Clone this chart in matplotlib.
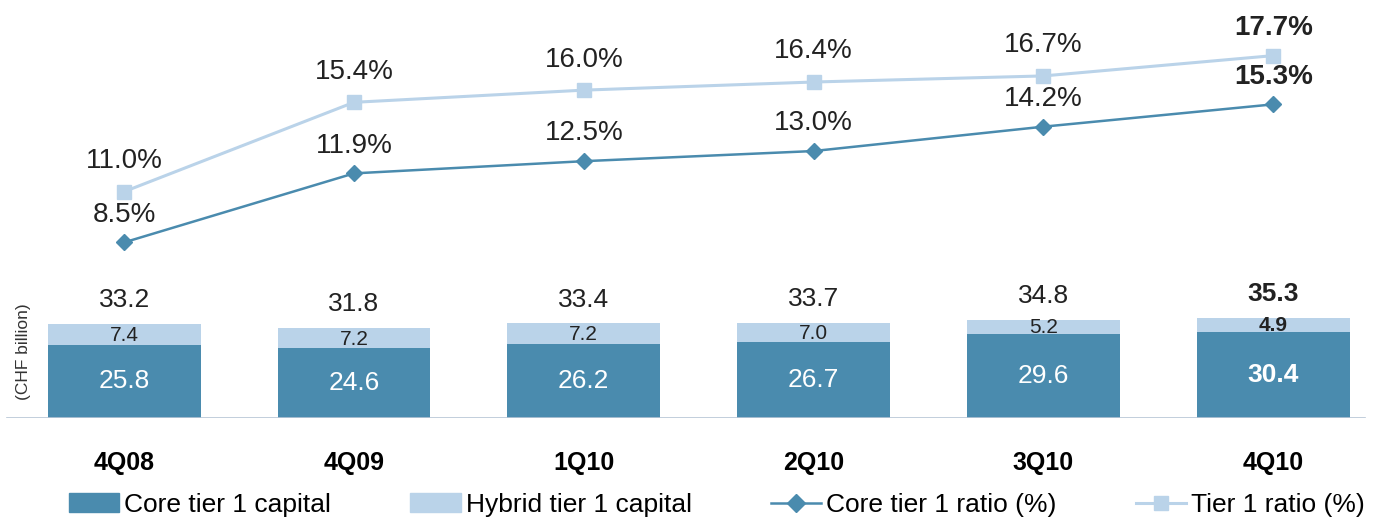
import matplotlib.pyplot as plt
from matplotlib.lines import Line2D
from matplotlib.patches import Patch

plt.rcParams['font.family'] = ['Liberation Sans', 'DejaVu Sans']

quarters = ['4Q08', '4Q09', '1Q10', '2Q10', '3Q10', '4Q10']
core_capital = [25.8, 24.6, 26.2, 26.7, 29.6, 30.4]
hybrid_capital = [7.4, 7.2, 7.2, 7.0, 5.2, 4.9]
total_capital = [33.2, 31.8, 33.4, 33.7, 34.8, 35.3]
core_ratio = [8.5, 11.9, 12.5, 13.0, 14.2, 15.3]
tier1_ratio = [11.0, 15.4, 16.0, 16.4, 16.7, 17.7]

DARK = '#4A8BAE'
LIGHT = '#BAD3E9'

fig = plt.figure(figsize=(13.79, 5.19), dpi=100)
ax = fig.add_axes([0, 101 / 519, 1, 418 / 519])
x = list(range(len(quarters)))

ax.bar(x, core_capital, width=0.665, color=DARK)
ax.bar(x, hybrid_capital, width=0.665, bottom=core_capital, color=LIGHT)
ax.set_xlim(-0.54, 5.46)
ax.set_ylim(0, 147.7)
ax.axhline(0, xmin=0.005, xmax=0.99, color='#B8C6D6', lw=1.2)

for i in x:
    last = i == len(x) - 1
    w = 'bold' if last else 'normal'
    ax.text(i, core_capital[i] / 2, f'{core_capital[i]:.1f}', color='white',
            ha='center', va='center', fontsize=19, fontweight=w)
    ax.text(i, core_capital[i] + hybrid_capital[i] / 2 - 0.3, f'{hybrid_capital[i]:.1f}',
            color='#222222', ha='center', va='center', fontsize=15, fontweight=w)
    ax.annotate(f'{total_capital[i]:.1f}', (i, core_capital[i] + hybrid_capital[i]),
                xytext=(0, 17), textcoords='offset points', ha='center', va='center',
                fontsize=19, fontweight=w, color='#222222')

ax.set_xticks(x, quarters, fontsize=18, fontweight='bold')
ax.tick_params(length=0, pad=24)
ax.set_yticks([])
for s in ax.spines.values():
    s.set_visible(False)

ax.text(0.0174, 0.158, '(CHF billion)', transform=ax.transAxes, rotation=90,
        ha='center', va='center', fontsize=12.5, color='#333333')

ax2 = ax.twinx()
ax2.set_ylim(-0.15, 20.44)
ax2.plot(x, tier1_ratio, color=LIGHT, lw=2.2, marker='s', markersize=10.5)
ax2.plot(x, core_ratio, color=DARK, lw=1.8, marker='D', markersize=8.5)
for i in x:
    last = i == len(x) - 1
    w = 'bold' if last else 'normal'
    ax2.annotate(f'{tier1_ratio[i]:.1f}%', (i, tier1_ratio[i]), xytext=(0, 20 if last else 22),
                 textcoords='offset points', ha='center', va='center',
                 fontsize=20, fontweight=w, color='#222222')
    ax2.annotate(f'{core_ratio[i]:.1f}%', (i, core_ratio[i]), xytext=(0, 20),
                 textcoords='offset points', ha='center', va='center',
                 fontsize=20, fontweight=w, color='#222222')
ax2.set_yticks([])
for s in ax2.spines.values():
    s.set_visible(False)

handles = [
    Patch(color=DARK, label='Core tier 1 capital'),
    Patch(color=LIGHT, label='Hybrid tier 1 capital'),
    Line2D([], [], color=DARK, marker='D', markersize=9, lw=1.8, label='Core tier 1 ratio (%)'),
    Line2D([], [], color=LIGHT, marker='s', markersize=10, lw=2.2, label='Tier 1 ratio (%)'),
]
fig.legend(handles=handles, loc='center', bbox_to_anchor=(0.52, 0.027), ncol=4,
           frameon=False, fontsize=19, handlelength=1.9, handleheight=0.75,
           columnspacing=3.0, handletextpad=0.2)

fig.savefig('out.png', dpi=100)
